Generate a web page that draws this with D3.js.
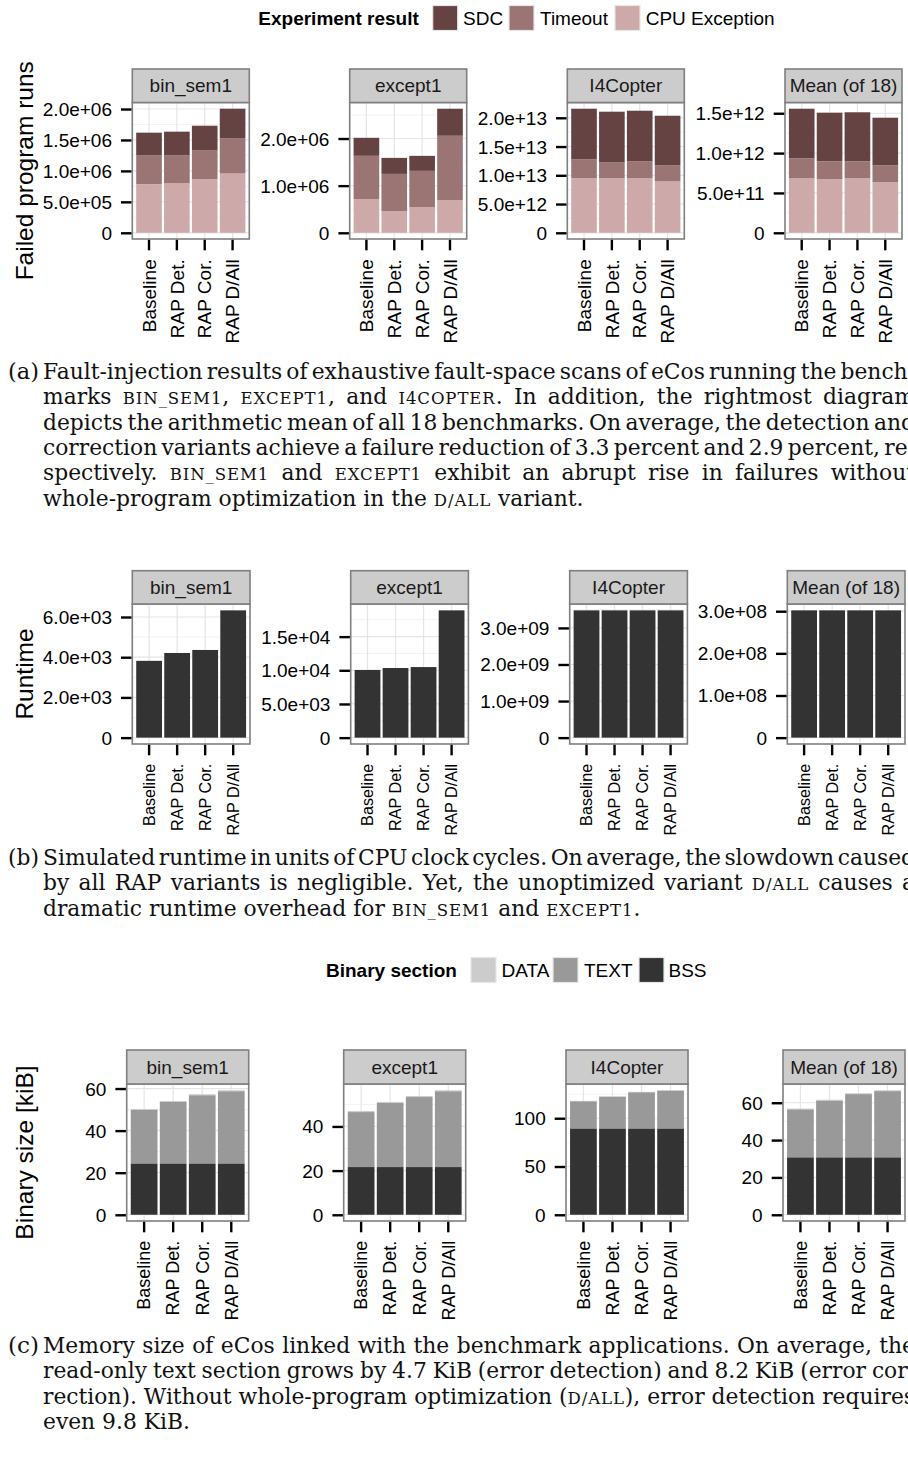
<!DOCTYPE html>
<html><head><meta charset="utf-8">
<script src="https://cdn.jsdelivr.net/npm/d3@7"></script>
<style>body{margin:0;background:#fff} svg{display:block}</style>
</head><body>
<svg id="c" width="908" height="1457"></svg>
<script>
// ---------- DATA ----------
const categories = ["Baseline", "RAP Det.", "RAP Cor.", "RAP D/All"];
const benchmarks = ["bin_sem1", "except1", "I4Copter", "Mean (of 18)"];

// (a) failed program runs, one array per benchmark (bin_sem1, except1, I4Copter, Mean)
const failKeys = ["SDC", "Timeout", "CPU Exception"];
const failCpuException = [
  [0.780e6, 0.795e6, 0.860e6, 0.955e6],
  [0.717e6, 0.462e6, 0.547e6, 0.696e6],
  [9.43e12, 9.43e12, 9.43e12, 8.90e12],
  [0.680e12, 0.668e12, 0.680e12, 0.630e12]
];
const failTimeout = [
  [0.467e6, 0.452e6, 0.467e6, 0.566e6],
  [0.915e6, 0.787e6, 0.766e6, 1.361e6],
  [3.30e12, 2.77e12, 2.95e12, 2.78e12],
  [0.251e12, 0.226e12, 0.214e12, 0.213e12]
];
const failSDC = [
  [0.371e6, 0.387e6, 0.403e6, 0.484e6],
  [0.383e6, 0.340e6, 0.319e6, 0.575e6],
  [8.85e12, 8.86e12, 8.85e12, 8.68e12],
  [0.626e12, 0.613e12, 0.618e12, 0.601e12]
];
const failTicks = [
  [0, 5e5, 1e6, 1.5e6, 2e6],
  [0, 1e6, 2e6],
  [0, 5e12, 1e13, 1.5e13, 2e13],
  [0, 5e11, 1e12, 1.5e12]
];

// (b) runtime
const runtimeValues = [
  [3.82e3, 4.21e3, 4.36e3, 6.33e3],
  [1.005e4, 1.034e4, 1.048e4, 1.89e4],
  [3.48e9, 3.48e9, 3.48e9, 3.48e9],
  [3.02e8, 3.02e8, 3.02e8, 3.02e8]
];
const runtimeTicks = [
  [0, 2e3, 4e3, 6e3],
  [0, 5e3, 1e4, 1.5e4],
  [0, 1e9, 2e9, 3e9],
  [0, 1e8, 2e8, 3e8]
];

// (c) binary size [kiB]
const sizeKeys = ["DATA", "TEXT", "BSS"];
const sizeBSS = [
  [24.3, 24.3, 24.3, 24.3],
  [21.6, 21.6, 21.6, 21.6],
  [89.2, 89.2, 89.2, 89.2],
  [30.7, 30.7, 30.7, 30.7]
];
const sizeTEXT = [
  [25.5, 29.3, 32.5, 34.4],
  [24.9, 29.0, 31.7, 34.3],
  [28.3, 33.0, 37.6, 39.3],
  [25.7, 30.4, 33.9, 35.5]
];
const sizeDATA = [
  [0.5, 0.5, 0.5, 0.5],
  [0.5, 0.5, 0.5, 0.5],
  [0.5, 0.5, 0.5, 0.5],
  [0.5, 0.5, 0.5, 0.5]
];
const sizeTicks = [
  [0, 20, 40, 60],
  [0, 20, 40],
  [0, 50, 100],
  [0, 20, 40, 60]
];

// captions ({...} = small caps)
const captionA = [
  "Fault-injection results of exhaustive fault-space scans of eCos running the bench-",
  "marks {bin_sem1}, {except1}, and {i4copter}. In addition, the rightmost diagram",
  "depicts the arithmetic mean of all 18 benchmarks. On average, the detection and",
  "correction variants achieve a failure reduction of 3.3 percent and 2.9 percent, re-",
  "spectively. {bin_sem1} and {except1} exhibit an abrupt rise in failures without",
  "whole-program optimization in the {d/all} variant."
];
const captionB = [
  "Simulated runtime in units of CPU clock cycles. On average, the slowdown caused",
  "by all RAP variants is negligible. Yet, the unoptimized variant {d/all} causes a",
  "dramatic runtime overhead for {bin_sem1} and {except1}."
];
const captionC = [
  "Memory size of eCos linked with the benchmark applications. On average, the",
  "read-only text section grows by 4.7 KiB (error detection) and 8.2 KiB (error cor-",
  "rection). Without whole-program optimization ({d/all}), error detection requires",
  "even 9.8 KiB."
];

// ---------- STYLE / LAYOUT ----------
const SANS = "'Liberation Sans', Arial, Helvetica, sans-serif";
const SERIF = "'DejaVu Serif', serif";
const failColors = {"SDC": "#654343", "Timeout": "#9a7574", "CPU Exception": "#cdaaa9"};
const sizeColors = {"DATA": "#cccccc", "TEXT": "#999999", "BSS": "#333333"};

const svg = d3.select("#c");

function sci(v) {
  if (v === 0) return "0";
  const parts = v.toExponential(1).split("e");
  const n = +parts[1];
  return parts[0] + "e" + (n < 0 ? "-" : "+") + String(Math.abs(n)).padStart(2, "0");
}

function drawRow(cfg) {
  const midY = (cfg.panelTop + cfg.panelBottom) / 2;
  svg.append("text")
    .attr("transform", `translate(24,${midY}) rotate(-90)`)
    .attr("text-anchor", "middle").attr("dominant-baseline", "central")
    .style("font-family", SANS).style("font-size", "24.5px").attr("fill", "#000")
    .text(cfg.title);

  benchmarks.forEach((b, bi) => {
    const left = cfg.lefts[bi], width = cfg.width, right = left + width;
    const top = cfg.panelTop, bottom = cfg.panelBottom;
    const tbl = categories.map((c, i) => {
      const o = {cat: c};
      cfg.stackKeys.forEach(k => { o[k] = cfg.series[k][bi][i]; });
      return o;
    });
    const stacked = d3.stack().keys(cfg.stackKeys)(tbl);
    const max = d3.max(stacked[stacked.length - 1], d => d[1]);
    const y = d3.scaleLinear().domain([-0.05 * max, 1.05 * max]).range([bottom, top]);
    const x = d3.scaleBand().domain(categories).range([left, right])
      .paddingInner(0.08).paddingOuter(0.14);
    const ticks = cfg.ticks[bi];
    const step = ticks[1] - ticks[0];

    const g = svg.append("g");
    g.append("rect").attr("x", left).attr("y", top).attr("width", width)
      .attr("height", bottom - top).attr("fill", "#fff");

    const minors = [];
    for (let v = ticks[0] - step / 2; v <= y.domain()[1]; v += step) {
      if (v >= y.domain()[0]) minors.push(v);
    }
    g.selectAll(null).data(minors).join("line")
      .attr("x1", left).attr("x2", right)
      .attr("y1", d => y(d)).attr("y2", d => y(d))
      .attr("stroke", "#f2f2f2").attr("stroke-width", 1);
    g.selectAll(null).data(ticks).join("line")
      .attr("x1", left).attr("x2", right)
      .attr("y1", d => y(d)).attr("y2", d => y(d))
      .attr("stroke", "#e5e5e5").attr("stroke-width", 1.2);
    g.selectAll(null).data(categories).join("line")
      .attr("x1", d => x(d) + x.bandwidth() / 2).attr("x2", d => x(d) + x.bandwidth() / 2)
      .attr("y1", top).attr("y2", bottom)
      .attr("stroke", "#e5e5e5").attr("stroke-width", 1.2);

    stacked.slice().reverse().forEach(layer => {
      g.selectAll(null).data(layer).join("rect")
        .attr("x", d => x(d.data.cat)).attr("width", x.bandwidth())
        .attr("y", d => y(d[1])).attr("height", d => y(d[0]) - y(d[1]))
        .attr("fill", cfg.colors[layer.key]);
    });

    g.append("rect").attr("x", left).attr("y", top).attr("width", width)
      .attr("height", bottom - top).attr("fill", "none")
      .attr("stroke", "#7f7f7f").attr("stroke-width", 1.6);

    g.append("rect").attr("x", left).attr("y", cfg.stripTop).attr("width", width)
      .attr("height", top - cfg.stripTop).attr("fill", "#cccccc")
      .attr("stroke", "#7f7f7f").attr("stroke-width", 1.6);
    g.append("text").attr("x", left + width / 2).attr("y", (cfg.stripTop + top) / 2)
      .attr("text-anchor", "middle").attr("dominant-baseline", "central")
      .style("font-family", SANS).style("font-size", "19px").attr("fill", "#1a1a1a")
      .text(b);

    const ya = g.append("g").attr("transform", `translate(${left - 0.8},0)`)
      .call(d3.axisLeft(y).tickValues(ticks).tickFormat(cfg.fmt).tickSize(10.5).tickPadding(9));
    ya.select(".domain").remove();
    ya.selectAll(".tick line").attr("stroke", "#000").attr("stroke-width", 2.4);
    ya.selectAll(".tick text").attr("fill", "#000").attr("dy", null)
      .attr("dominant-baseline", "central")
      .style("font-family", SANS).style("font-size", "19px");

    const xa = g.append("g").attr("transform", `translate(0,${bottom + 0.8})`)
      .call(d3.axisBottom(x).tickSize(10.5));
    xa.select(".domain").remove();
    xa.selectAll(".tick line").attr("stroke", "#000").attr("stroke-width", 2.4);
    xa.selectAll(".tick text").attr("fill", "#000")
      .attr("transform", "rotate(-90)").attr("x", -cfg.xLabelGap).attr("y", 0)
      .attr("dy", "0.35em").attr("text-anchor", "end")
      .style("font-family", SANS).style("font-size", cfg.xLabelSize + "px");
  });
}

function drawLegend(cfg) {
  const g = svg.append("g");
  g.append("text").attr("x", cfg.titleX).attr("y", cfg.cy).attr("dominant-baseline", "central")
    .style("font-family", SANS).style("font-size", "19px").style("font-weight", "bold")
    .attr("fill", "#000").text(cfg.title);
  cfg.keys.forEach((k, i) => {
    g.append("rect").attr("x", cfg.keyX[i]).attr("y", cfg.cy - 12.5).attr("width", 25)
      .attr("height", 25).attr("fill", cfg.colors[k])
      .attr("stroke", "#e6e6e6").attr("stroke-width", 1.2);
    g.append("text").attr("x", cfg.textX[i]).attr("y", cfg.cy).attr("dominant-baseline", "central")
      .style("font-family", SANS).style("font-size", "19px").attr("fill", "#000").text(k);
  });
}

const CAP_SIZE = 21.8;
function drawCaption(label, lines, baseline0, lead) {
  svg.append("text").attr("x", 8).attr("y", baseline0)
    .style("font-family", SERIF).style("font-size", CAP_SIZE + "px").attr("fill", "#111")
    .attr("textLength", 31).attr("lengthAdjust", "spacingAndGlyphs")
    .text(label);
  lines.forEach((line, li) => {
    const t = svg.append("text").attr("x", 43).attr("y", baseline0 + li * lead)
      .style("font-family", SERIF).style("font-size", CAP_SIZE + "px").attr("fill", "#111")
      .attr("xml:space", "preserve");
    const parts = line.split(/(\{[^}]*\})/).filter(s => s.length);
    parts.forEach(p => {
      if (p[0] === "{") {
        t.append("tspan").style("font-size", (CAP_SIZE * 0.76) + "px")
          .style("letter-spacing", "0.9px").text(p.slice(1, -1).toUpperCase());
      } else {
        t.append("tspan").text(p);
      }
    });
    if (li < lines.length - 1) {
      const natural = t.node().getComputedTextLength();
      const spaces = (line.replace(/[{}]/g, "").match(/ /g) || []).length;
      const target = 872;
      if (spaces > 0) t.attr("word-spacing", ((target - natural) / spaces) + "px");
    }
  });
}

// ---------- DRAW ----------
drawLegend({title: "Experiment result", titleX: 258.3, cy: 18, keys: failKeys, colors: failColors,
  keyX: [432.7, 509, 615], textX: [463, 540, 645.7]});

drawRow({title: "Failed program runs", stripTop: 69, panelTop: 102.5, panelBottom: 239,
  lefts: [132.3, 349.7, 567.3, 785], width: 117, xLabelSize: 19, xLabelGap: 19.5,
  stackKeys: ["CPU Exception", "Timeout", "SDC"],
  series: {"CPU Exception": failCpuException, "Timeout": failTimeout, "SDC": failSDC},
  colors: failColors, ticks: failTicks, fmt: sci});

drawCaption("(a)", captionA, 379, 25.3);

drawRow({title: "Runtime", stripTop: 570.7, panelTop: 604, panelBottom: 744,
  lefts: [132.3, 350.7, 569.7, 787.3], width: 117.7, xLabelSize: 16.2, xLabelGap: 19,
  stackKeys: ["runtime"],
  series: {"runtime": runtimeValues},
  colors: {"runtime": "#333333"}, ticks: runtimeTicks, fmt: sci});

drawCaption("(b)", captionB, 865, 25.3);

drawLegend({title: "Binary section", titleX: 326, cy: 970, keys: sizeKeys, colors: sizeColors,
  keyX: [471, 553, 639], textX: [501.5, 584, 668.5]});

drawRow({title: "Binary size [kiB]", stripTop: 1050, panelTop: 1084, panelBottom: 1221,
  lefts: [126.7, 343.7, 566, 783], width: 122, xLabelSize: 18, xLabelGap: 19,
  stackKeys: ["BSS", "TEXT", "DATA"],
  series: {"BSS": sizeBSS, "TEXT": sizeTEXT, "DATA": sizeDATA},
  colors: sizeColors, ticks: sizeTicks, fmt: d3.format("d")});

drawCaption("(c)", captionC, 1353, 25.3);
</script>
</body></html>
